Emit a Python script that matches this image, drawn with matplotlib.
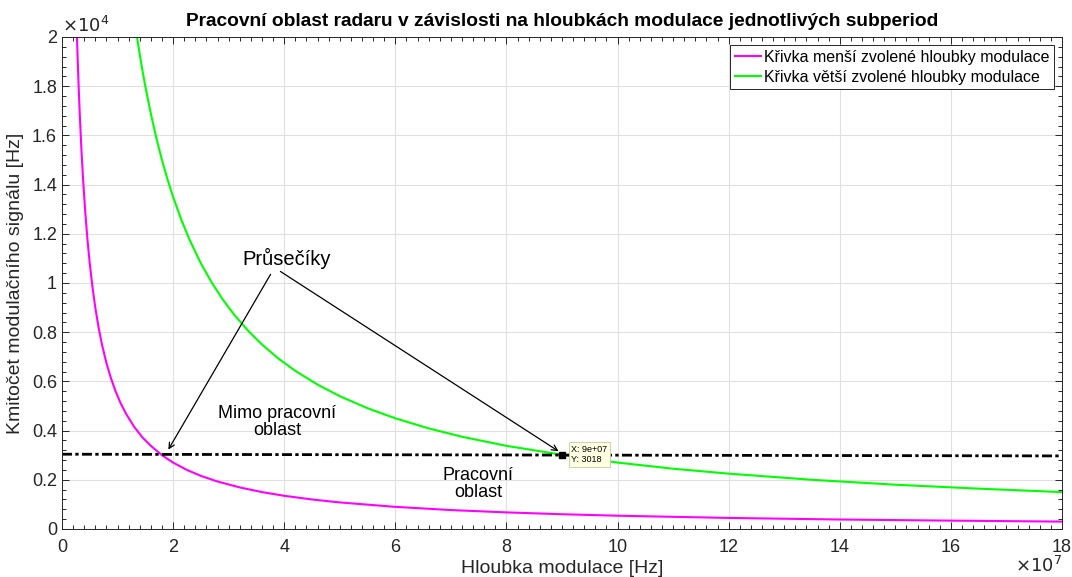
import numpy as np
import matplotlib
matplotlib.use("Agg")
import matplotlib.pyplot as plt
from matplotlib.ticker import MultipleLocator

plt.rcParams['font.family'] = ['Liberation Sans', 'DejaVu Sans']

# Krivka mensi hloubky modulace (x v 1e7 Hz, y v Hz)
x_mensi = [0.27, 0.28, 0.3, 0.32, 0.35, 0.38, 0.42, 0.46, 0.5, 0.55, 0.6, 0.66, 0.72,
           0.8, 0.88, 0.96, 1.05, 1.15, 1.3, 1.45, 1.6, 1.8, 2.0, 2.25, 2.5, 2.8,
           3.2, 3.6, 4, 4.5, 5, 6, 7, 8, 9, 10, 12, 14, 16, 18]
y_mensi = [20000, 19290, 18000, 16880, 15430, 14210, 12860, 11740, 10800, 9820, 9000,
           8180, 7500, 6750, 6140, 5630, 5140, 4700, 4150, 3720, 3380, 3000, 2700,
           2400, 2160, 1930, 1690, 1500, 1350, 1200, 1080, 900, 770, 675, 600, 540,
           450, 385, 340, 300]

# Krivka vetsi hloubky modulace
x_vetsi = [1.35, 1.4, 1.45, 1.5, 1.6, 1.7, 1.8, 1.9, 2.0, 2.15, 2.3, 2.5, 2.7, 2.9,
           3.1, 3.35, 3.6, 3.9, 4.2, 4.6, 5, 5.5, 6, 6.6, 7.2, 8, 9, 10, 11, 12,
           13.5, 15, 16.5, 18]
y_vetsi = [20000, 19290, 18620, 18000, 16880, 15880, 15000, 14210, 13500, 12560,
           11740, 10800, 10000, 9310, 8710, 8060, 7500, 6920, 6430, 5870, 5400, 4910,
           4500, 4090, 3750, 3380, 3018, 2700, 2450, 2250, 2000, 1800, 1640, 1500]

# Mez pracovni oblasti
x_mez = [0, 18]
y_mez = [3040, 2970]

# Prusecik (datatip)
tip_x, tip_y = 9e7, 3018

x_ticks = [0, 2, 4, 6, 8, 10, 12, 14, 16, 18]
y_ticks = [0, 0.2, 0.4, 0.6, 0.8, 1, 1.2, 1.4, 1.6, 1.8, 2]

fig = plt.figure(figsize=(10.72, 5.77), dpi=100)
ax = fig.add_axes([0.0578, 0.0832, 0.9329, 0.8527])

ax.plot(np.array(x_mensi) * 1e7, y_mensi, color='#ff00ff', lw=1.5,
        label='Křivka menší zvolené hloubky modulace')
ax.plot(np.array(x_vetsi) * 1e7, y_vetsi, color='#00ff00', lw=1.5,
        label='Křivka větší zvolené hloubky modulace')
ax.plot(np.array(x_mez) * 1e7, y_mez, color='black', lw=2,
        dashes=(3.6, 1.2, 1.2, 1.2))

# datatip
ax.plot([tip_x], [tip_y], 's', color='black', ms=5, zorder=5)
ax.text(tip_x + 0.17e7, tip_y, 'X: 9e+07\nY: 3018', fontsize=6.5, va='center',
        ha='left', linespacing=1.2,
        bbox=dict(boxstyle='square,pad=0.3', fc='#ffffe1', ec='#c8c8a0', lw=0.6),
        zorder=6)

# popisky
ax.text(4.05e7, 11016, 'Průsečíky', fontsize=14.5, ha='center', va='center')
ax.annotate('', xy=(1.89e7, 3130), xytext=(3.78e7, 10450),
            arrowprops=dict(arrowstyle='->', color='black', lw=0.9))
ax.annotate('', xy=(8.98e7, 3100), xytext=(3.89e7, 10530),
            arrowprops=dict(arrowstyle='->', color='black', lw=0.9))
ax.text(3.87e7, 4350, 'Mimo pracovní\noblast', fontsize=13, ha='center',
        va='center', linespacing=1.0)
ax.text(7.49e7, 1830, 'Pracovní\noblast', fontsize=13, ha='center',
        va='center', linespacing=1.0)

ax.set_xlim(0, 18e7)
ax.set_ylim(0, 2e4)
ax.set_xticks([v * 1e7 for v in x_ticks])
ax.set_xticklabels([str(v) for v in x_ticks])
ax.set_yticks([v * 1e4 for v in y_ticks])
ax.set_yticklabels([('%g' % v) for v in y_ticks])
ax.xaxis.set_minor_locator(MultipleLocator(0.2e7))
ax.yaxis.set_minor_locator(MultipleLocator(0.04e4))
ax.tick_params(which='both', direction='in', top=True, right=True,
               colors='#262626', labelsize=13, labelcolor='#262626')
ax.tick_params(axis='x', which='major', pad=7)
ax.tick_params(which='major', length=5, width=0.7)
ax.tick_params(which='minor', length=3, width=0.7)
for s in ax.spines.values():
    s.set_color('#262626')
    s.set_linewidth(0.7)
ax.grid(True, which='major', color='#e0e0e0', lw=0.8)
ax.set_axisbelow(True)

ax.text(0, 1.003, r'$\times10^4$', transform=ax.transAxes, fontsize=13,
        ha='left', va='bottom', color='#262626')
ax.text(1.0, -0.088, r'$\times10^7$', transform=ax.transAxes, fontsize=13,
        ha='right', va='baseline', color='#262626')

ax.set_xlabel('Hloubka modulace [Hz]', fontsize=14, color='#262626', labelpad=3)
ax.set_ylabel('Kmitočet modulačního signálu [Hz]', fontsize=14, color='#262626',
              labelpad=6)
ax.set_title('Pracovní oblast radaru v závislosti na hloubkách modulace jednotlivých subperiod',
             fontsize=13.8, fontweight='bold', pad=8)

leg = ax.legend(loc='upper right', fontsize=11.5, fancybox=False, framealpha=1,
                edgecolor='#262626', handlelength=1.6, handletextpad=0.2,
                borderpad=0.3, labelspacing=0.3, borderaxespad=0.5)
leg.get_frame().set_linewidth(0.7)

fig.savefig('out.png', dpi=100)
